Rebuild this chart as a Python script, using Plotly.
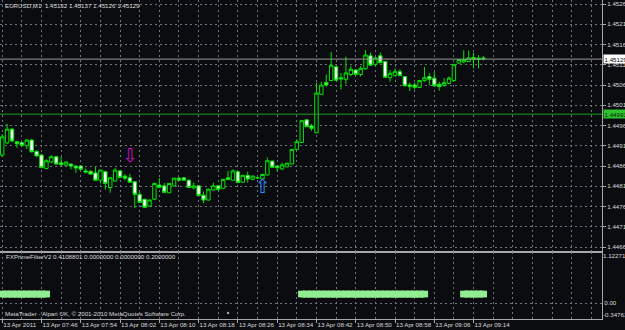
import plotly.graph_objects as go

# ---------------- data ----------------
symbol = "EURUSD,M1"
indicator_name = "FXPrimeFilterV2"
indicator_buffers = ["0.4108801", "0.0000000", "0.0000000", "0.2000000"]
copyright_text = "MetaTrader - Alpari UK, \u00a9 2001-2010 MetaQuotes Software Corp."

opens = [1.44892, 1.44922, 1.44956, 1.44925, 1.44923, 1.44915, 1.44929, 1.44901, 1.44892, 1.44859,
         1.44875, 1.44888, 1.44873, 1.44867, 1.44870, 1.44865, 1.44865, 1.44853, 1.44852, 1.44848,
         1.44830, 1.44851, 1.44812, 1.44828, 1.44853, 1.44840, 1.44836, 1.44826, 1.44795, 1.44783,
         1.44766, 1.44783, 1.44818, 1.44816, 1.44799, 1.44816, 1.44835, 1.44836, 1.44830, 1.44811,
         1.44816, 1.44793, 1.44781, 1.44806, 1.44816, 1.44810, 1.44836, 1.44830, 1.44851, 1.44825,
         1.44842, 1.44832, 1.44836, 1.44833, 1.44843, 1.44877, 1.44865, 1.44858, 1.44863, 1.44870,
         1.44906, 1.44923, 1.44979, 1.44964, 1.44947, 1.45042, 1.45071, 1.45076, 1.45110, 1.45083,
         1.45079, 1.45091, 1.45102, 1.45091, 1.45105, 1.45137, 1.45116, 1.45137, 1.45123, 1.45083,
         1.45089, 1.45098, 1.45086, 1.45065, 1.45065, 1.45059, 1.45076, 1.45086, 1.45082, 1.45067,
         1.45064, 1.45069, 1.45076, 1.45119, 1.45122, 1.45123, 1.45133, 1.45131, 1.45132]
highs = [1.44944, 1.44969, 1.44959, 1.44927, 1.44924, 1.44932, 1.44932, 1.44904, 1.44895, 1.44882,
         1.44892, 1.44890, 1.44888, 1.44876, 1.44871, 1.44866, 1.44866, 1.44859, 1.44854, 1.44863,
         1.44856, 1.44853, 1.44838, 1.44860, 1.44854, 1.44845, 1.44845, 1.44828, 1.44801, 1.44784,
         1.44782, 1.44824, 1.44835, 1.44823, 1.44823, 1.44836, 1.44838, 1.44838, 1.44832, 1.44824,
         1.44817, 1.44802, 1.44809, 1.44824, 1.44818, 1.44833, 1.44853, 1.44857, 1.44853, 1.44843,
         1.44851, 1.44842, 1.44838, 1.44845, 1.44886, 1.44879, 1.44866, 1.44873, 1.44873, 1.44907,
         1.44931, 1.44979, 1.44980, 1.44969, 1.45071, 1.45073, 1.45091, 1.45147, 1.45112, 1.45095,
         1.45135, 1.45112, 1.45104, 1.45112, 1.45151, 1.45145, 1.45135, 1.45145, 1.45124, 1.45102,
         1.45106, 1.45104, 1.45087, 1.45071, 1.45071, 1.45077, 1.45109, 1.45094, 1.45098, 1.45073,
         1.45082, 1.45086, 1.45117, 1.45129, 1.45151, 1.45150, 1.45145, 1.45139, 1.45137]
lows = [1.44887, 1.44919, 1.44924, 1.44910, 1.44914, 1.44907, 1.44899, 1.44887, 1.44860, 1.44857,
        1.44872, 1.44868, 1.44866, 1.44865, 1.44857, 1.44848, 1.44855, 1.44847, 1.44844, 1.44829,
        1.44822, 1.44807, 1.44799, 1.44827, 1.44835, 1.44830, 1.44824, 1.44761, 1.44774, 1.44761,
        1.44764, 1.44781, 1.44810, 1.44798, 1.44798, 1.44815, 1.44828, 1.44829, 1.44811, 1.44807,
        1.44791, 1.44773, 1.44780, 1.44805, 1.44804, 1.44808, 1.44830, 1.44829, 1.44823, 1.44824,
        1.44824, 1.44831, 1.44834, 1.44832, 1.44842, 1.44861, 1.44851, 1.44855, 1.44862, 1.44869,
        1.44905, 1.44922, 1.44961, 1.44952, 1.44946, 1.45041, 1.45061, 1.45075, 1.45076, 1.45054,
        1.45067, 1.45087, 1.45090, 1.45086, 1.45103, 1.45112, 1.45112, 1.45119, 1.45083, 1.45073,
        1.45086, 1.45087, 1.45062, 1.45050, 1.45054, 1.45058, 1.45073, 1.45065, 1.45062, 1.45051,
        1.45061, 1.45067, 1.45075, 1.45117, 1.45119, 1.45122, 1.45106, 1.45106, 1.45126]
closes = [1.44937, 1.44956, 1.44927, 1.44920, 1.44916, 1.44929, 1.44900, 1.44890, 1.44861, 1.44878,
          1.44888, 1.44870, 1.44868, 1.44875, 1.44865, 1.44860, 1.44857, 1.44850, 1.44845, 1.44830,
          1.44855, 1.44822, 1.44836, 1.44855, 1.44837, 1.44835, 1.44825, 1.44795, 1.44775, 1.44763,
          1.44781, 1.44822, 1.44812, 1.44800, 1.44822, 1.44835, 1.44830, 1.44830, 1.44812, 1.44816,
          1.44792, 1.44781, 1.44808, 1.44816, 1.44807, 1.44832, 1.44832, 1.44853, 1.44824, 1.44842,
          1.44833, 1.44840, 1.44836, 1.44844, 1.44878, 1.44862, 1.44861, 1.44868, 1.44872, 1.44906,
          1.44925, 1.44977, 1.44962, 1.44958, 1.45045, 1.45065, 1.45065, 1.45114, 1.45077, 1.45080,
          1.45095, 1.45104, 1.45091, 1.45106, 1.45139, 1.45114, 1.45132, 1.45120, 1.45084, 1.45094,
          1.45098, 1.45088, 1.45063, 1.45061, 1.45059, 1.45076, 1.45083, 1.45079, 1.45063, 1.45061,
          1.45071, 1.45082, 1.45116, 1.45128, 1.45128, 1.45132, 1.45128, 1.45128, 1.45129]
bars = list(range(len(opens)))

time_tick_bars = [0, 8, 16, 24, 32, 40, 48, 56, 64, 72, 80, 88, 96]
time_tick_labels = ["13 Apr 2011", "13 Apr 07:46", "13 Apr 07:54", "13 Apr 08:02", "13 Apr 08:10",
                    "13 Apr 08:18", "13 Apr 08:26", "13 Apr 08:34", "13 Apr 08:42", "13 Apr 08:50",
                    "13 Apr 08:58", "13 Apr 09:06", "13 Apr 09:14"]
grid_bars = list(range(0, 124, 4))

price_ticks = [1.44665, 1.44715, 1.44765, 1.44815, 1.44865, 1.44915, 1.44965,
               1.45015, 1.45065, 1.45115, 1.45165, 1.45215, 1.45265]
level_line = 1.44993

filter_level = 0.2
filter_segments = [(0, 9), (61, 86), (94, 98)]
filter_min = -0.34763
filter_max = 1.12271
filter_zero = 0.0

sell_arrow_bar, sell_arrow_price = 26, 1.44887
buy_arrow_bar, buy_arrow_price = 53, 1.44811
stray_dot_bar, stray_dot_value = 46, -0.215

# ---------------- styles / layout ----------------
W, H = 625, 330
BG = "#0b0c10"
LIME = "#00e600"
GRID = "#6e747c"
FRAME = "#a8a8a8"
TXT = "#dadada"
FONT = "Liberation Sans"
FS = 6.2
X_RANGE = [-0.448, 122.16]
PLOT_R = 602 / W


def fy(px):
    return 1 - px / H


filter_values = [None] * len(bars)
for a, b in filter_segments:
    for k in range(a, b + 1):
        filter_values[k] = filter_level

fig = go.Figure()

fig.add_trace(go.Candlestick(
    x=bars, open=opens, high=highs, low=lows, close=closes,
    xaxis="x", yaxis="y",
    increasing=dict(line=dict(color=LIME, width=1), fillcolor=BG),
    decreasing=dict(line=dict(color=LIME, width=1), fillcolor="#ffffff"),
    whiskerwidth=0, showlegend=False, hoverinfo="skip"))

fig.add_trace(go.Scatter(
    x=[sell_arrow_bar], y=[sell_arrow_price], mode="text", text=["\u21e9"],
    textfont=dict(family="DejaVu Sans", size=19, color="#c010c0"),
    xaxis="x", yaxis="y", showlegend=False, hoverinfo="skip"))
fig.add_trace(go.Scatter(
    x=[buy_arrow_bar], y=[buy_arrow_price], mode="text", text=["\u21e7"],
    textfont=dict(family="DejaVu Sans", size=19, color="#2a8cff"),
    xaxis="x", yaxis="y", showlegend=False, hoverinfo="skip"))

fig.add_trace(go.Scatter(
    x=bars, y=filter_values, mode="lines+markers", connectgaps=False,
    line=dict(color="#90ee90", width=6.7),
    marker=dict(symbol="line-ew", size=5.2, line=dict(color="#90ee90", width=6.7)),
    xaxis="x2", yaxis="y2", showlegend=False, hoverinfo="skip"))
fig.add_trace(go.Scatter(
    x=[stray_dot_bar], y=[stray_dot_value], mode="markers",
    marker=dict(color="#9aa4b0", size=2.5),
    xaxis="x2", yaxis="y2", showlegend=False, hoverinfo="skip"))
fig.add_trace(go.Scatter(x=[None], y=[None], xaxis="x2", yaxis="y3",
                         showlegend=False, hoverinfo="skip"))
fig.add_trace(go.Scatter(x=[None], y=[None], xaxis="x2", yaxis="y4",
                         showlegend=False, hoverinfo="skip"))

tickfont = dict(family=FONT, size=FS, color=TXT)
grid_kw = dict(showgrid=True, gridcolor=GRID, gridwidth=1, griddash="2px,3px",
               zeroline=False, automargin=False)

main_bottom = fy(251)
ind_top = fy(252)
ind_bottom = fy(319)

minor_grid = [g for g in grid_bars if g not in time_tick_bars]

fig.update_layout(
    width=W, height=H, margin=dict(l=0, r=0, t=0, b=0, autoexpand=False),
    paper_bgcolor=BG, plot_bgcolor=BG, showlegend=False,
    boxgap=0.3, boxgroupgap=0,
    xaxis=dict(domain=[0, PLOT_R], range=X_RANGE, anchor="y",
               tickvals=grid_bars, showticklabels=False, ticks="",
               showline=True, linecolor=FRAME, linewidth=2,
               rangeslider=dict(visible=False), **grid_kw),
    yaxis=dict(domain=[main_bottom, 1], anchor="x", side="right",
               range=[1.446552, 1.452749],
               tickvals=price_ticks, ticktext=[f"{p:.5f}" for p in price_ticks],
               ticks="outside", ticklen=3, tickcolor=FRAME, tickfont=tickfont,
               showline=True, linecolor=FRAME, linewidth=1, **grid_kw),
    xaxis2=dict(domain=[0, PLOT_R], range=X_RANGE, anchor="y2",
                tickvals=time_tick_bars, ticktext=time_tick_labels, tickangle=0,
                ticks="outside", ticklen=3, tickcolor=FRAME, tickfont=tickfont,
                ticklabelposition="outside right",
                minor=dict(tickvals=minor_grid, showgrid=True, gridcolor=GRID,
                           griddash="2px,3px", ticks=""),
                showline=True, linecolor=FRAME, linewidth=1, **grid_kw),
    yaxis2=dict(domain=[ind_bottom, ind_top], anchor="x2", side="right",
                range=[filter_min, filter_max],
                tickvals=[filter_zero], ticktext=[f"{filter_zero:.2f}"],
                ticks="", tickfont=tickfont,
                showline=True, linecolor=FRAME, linewidth=1, **grid_kw),
    yaxis3=dict(overlaying="y2", anchor="x2", side="right", automargin=False,
                range=[filter_min, filter_max],
                tickvals=[filter_max], ticktext=[f"{filter_max:.5f}"],
                ticks="", tickfont=tickfont, ticklabelshift=4,
                showgrid=False, zeroline=False, showline=False),
    yaxis4=dict(overlaying="y2", anchor="x2", side="right", automargin=False,
                range=[filter_min, filter_max],
                tickvals=[filter_min], ticktext=[f"{filter_min:.5f}"],
                ticks="", tickfont=tickfont, ticklabelshift=-4,
                showgrid=False, zeroline=False, showline=False),
)

# horizontal lines: bid line and green level line
fig.add_shape(type="line", xref="x domain", yref="y", x0=0, x1=1,
              y0=closes[-1], y1=closes[-1], line=dict(color="#9a9a9a", width=1))
fig.add_shape(type="line", xref="x domain", yref="y", x0=0, x1=1,
              y0=level_line, y1=level_line, line=dict(color="#1f9f1f", width=1))

# price boxes on the right scale
fig.add_annotation(xref="paper", yref="y", x=PLOT_R, y=closes[-1], xanchor="left",
                   yanchor="middle", text=f"{closes[-1]:.5f}", showarrow=False,
                   bgcolor="#ffffff", borderpad=0.5, xshift=1,
                   font=dict(family=FONT, size=FS, color="#000000"))
fig.add_annotation(xref="paper", yref="y", x=PLOT_R, y=level_line, xanchor="left",
                   yanchor="middle", text=f"{level_line:.5f}", showarrow=False,
                   bgcolor="#2ec22e", borderpad=0.5, xshift=1,
                   font=dict(family=FONT, size=FS, color="#0a200a"))

# texts
title = f"{symbol}  {opens[-1]:.5f} {highs[-1]:.5f} {lows[-1]:.5f} {closes[-1]:.5f}"
fig.add_annotation(xref="paper", yref="paper", x=3 / W, y=fy(5.5), xanchor="left",
                   yanchor="middle", text=title, showarrow=False,
                   font=dict(family=FONT, size=FS, color=TXT))
fig.add_annotation(xref="paper", yref="paper", x=4 / W, y=fy(256), xanchor="left",
                   yanchor="middle", text=indicator_name + " " + " ".join(indicator_buffers),
                   showarrow=False, font=dict(family=FONT, size=FS, color=TXT))
fig.add_annotation(xref="paper", yref="paper", x=3 / W, y=fy(313), xanchor="left",
                   yanchor="middle", text=copyright_text, showarrow=False,
                   font=dict(family=FONT, size=FS, color=TXT))

fig.write_html("out.html", config=dict(displayModeBar=False))
